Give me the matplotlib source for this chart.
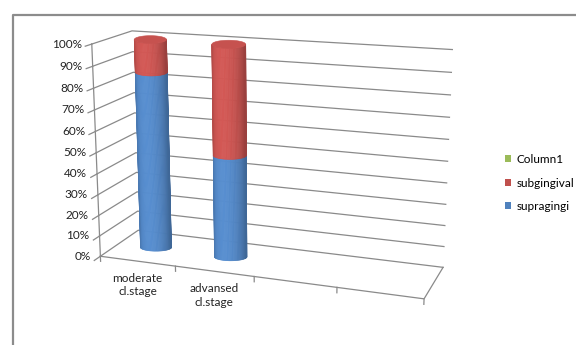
import numpy as np
import matplotlib.pyplot as plt
from matplotlib.patches import Polygon, Patch
from matplotlib.colors import to_rgb

plt.rcParams['font.family'] = ['Lato', 'DejaVu Sans']

categories = ['moderate\ncl.stage', 'advansed\ncl.stage', '', '']
supragingi = [85, 49, 0, 0]
subgingival = [15, 51, 0, 0]
column1 = [0, 0, 0, 0]
series_names = ['supragingi', 'subgingival', 'Column1']
series_colors = ['#4F81BD', '#C0504D', '#9BBB59']
y_ticks = [0, 10, 20, 30, 40, 50, 60, 70, 80, 90, 100]

# box corners (u = category, v = value fraction, w = depth) and where they land in pixels
box_world = np.array([
    [0, 0, 0], [1, 0, 0], [2, 0, 0], [3, 0, 0], [4, 0, 0],
    [0, 1, 0], [0, 0.5, 0], [0, 1, 1], [4, 1, 1], [4, 0, 1], [4, 0.5, 1],
], dtype=float)
box_px = np.array([
    [100, 255], [176, 267], [254, 277], [337, 288], [424, 298],
    [92, 44], [96, 153], [132, 31], [452, 49], [443, 267], [448, 162],
], dtype=float)


def fit_camera(world, px):
    px = px / 100.0
    rows = []
    for (X, Y, Z), (x, y) in zip(world, px):
        rows.append([X, Y, Z, 1, 0, 0, 0, 0, -x * X, -x * Y, -x * Z, -x])
        rows.append([0, 0, 0, 0, X, Y, Z, 1, -y * X, -y * Y, -y * Z, -y])
    _, _, vt = np.linalg.svd(np.array(rows))
    return vt[-1].reshape(3, 4)


P = fit_camera(box_world, box_px)


def proj(pts):
    pts = np.atleast_2d(np.asarray(pts, dtype=float))
    h = np.c_[pts, np.ones(len(pts))] @ P.T
    return 100.0 * h[:, :2] / h[:, 2:3]


fig = plt.figure(figsize=(5.76, 3.45), dpi=100)
ax = fig.add_axes([0, 0, 1, 1])
ax.set_xlim(0, 576)
ax.set_ylim(345, 0)
ax.axis('off')

# outer chart border
ax.plot([13, 13, 580], [350, 15, 15], color='#8c8c8c', lw=1.6, solid_capstyle='butt')

grid_c = '#8a8a8a'
grid_lw = 0.9
fs = 8.5

# walls: side wall + back wall gridlines
for t in y_ticks:
    v = t / 100
    pts = proj([[0, v, 0], [0, v, 1], [4, v, 1]])
    ax.plot(pts[:, 0], pts[:, 1], color=grid_c, lw=grid_lw, zorder=1)
    tk = proj([[0, v, 0], [0, v, -0.15]])
    ax.plot(tk[:, 0], tk[:, 1], color=grid_c, lw=grid_lw, zorder=1)
    lx, ly = proj([[0, v, 0]])[0]
    ax.text(lx - 10, ly, f'{t}%', ha='right', va='center', fontsize=fs, color='#222222')

# value axis line and floor edges
ax_line = proj([[0, 0, 0], [0, 1, 0]])
ax.plot(ax_line[:, 0], ax_line[:, 1], color=grid_c, lw=grid_lw, zorder=1)
floor = proj([[0, 0, 0], [4, 0, 0], [4, 0, 1]])
ax.plot(floor[:, 0], floor[:, 1], color=grid_c, lw=grid_lw, zorder=1)
for i in range(len(categories) + 1):
    tk = proj([[i, 0, 0], [i, -0.025, 0]])
    ax.plot(tk[:, 0], tk[:, 1], color=grid_c, lw=grid_lw, zorder=1)

# category labels under the front edge
for i, lab in enumerate(categories):
    cx, cy = proj([[i + 0.5, 0, 0]])[0]
    ax.text(cx, cy + 12, lab, ha='center', va='top', fontsize=fs,
            color='#222222', linespacing=1.25)

# cylinders: ellipse rings centred on the projected bar axis
ru = 0.21
flat = 0.24
ts = np.linspace(0, np.pi, 41)
light = np.pi / 2 + 0.45


def shade(color, k):
    return tuple(np.clip(np.array(to_rgb(color)) * k, 0, 1))


def ring(uc, v, t):
    c = proj([[uc, v, 0.5]])[0]
    ends = proj([[uc - ru, v, 0.5], [uc + ru, v, 0.5]])
    a = 0.5 * np.hypot(*(ends[1] - ends[0]))
    b = a * flat
    return np.c_[c[0] + a * np.cos(t), c[1] + b * np.sin(t)]


def cylinder(uc, lo, hi, color, cap):
    bot = ring(uc, lo, ts)
    top = ring(uc, hi, ts)
    for j in range(len(ts) - 1):
        quad = [bot[j], bot[j + 1], top[j + 1], top[j]]
        tm = 0.5 * (ts[j] + ts[j + 1])
        k = 0.8 + 0.3 * max(0.0, np.cos(tm - light))
        c = shade(color, k)
        ax.add_patch(Polygon(quad, closed=True, facecolor=c, edgecolor=c,
                             lw=0.5, zorder=3))
    if cap:
        full = ring(uc, hi, np.linspace(0, 2 * np.pi, 81))
        c = shade(color, 1.03)
        ax.add_patch(Polygon(full, closed=True, facecolor=c, edgecolor=c,
                             lw=0.4, zorder=4))


stack = [supragingi, subgingival, column1]
for i in range(len(categories)):
    vals = [s[i] for s in stack]
    nz = [j for j, v in enumerate(vals) if v > 0]
    base = 0
    for j, v in enumerate(vals):
        if v <= 0:
            continue
        cylinder(i + 0.5, base / 100, (base + v) / 100,
                 series_colors[j], cap=(j == nz[-1]))
        base += v

# legend, top entry is the last series
handles = [Patch(facecolor=series_colors[j], edgecolor='none') for j in (2, 1, 0)]
labels = [series_names[j] for j in (2, 1, 0)]
ax.legend(handles, labels, loc='center left', bbox_to_anchor=(505 / 576, 1 - 183 / 345),
          frameon=False, fontsize=fs, handlelength=0.55, handleheight=0.55,
          handletextpad=0.4, labelspacing=1.05, borderpad=0, borderaxespad=0)

fig.savefig('out.png', dpi=100)
